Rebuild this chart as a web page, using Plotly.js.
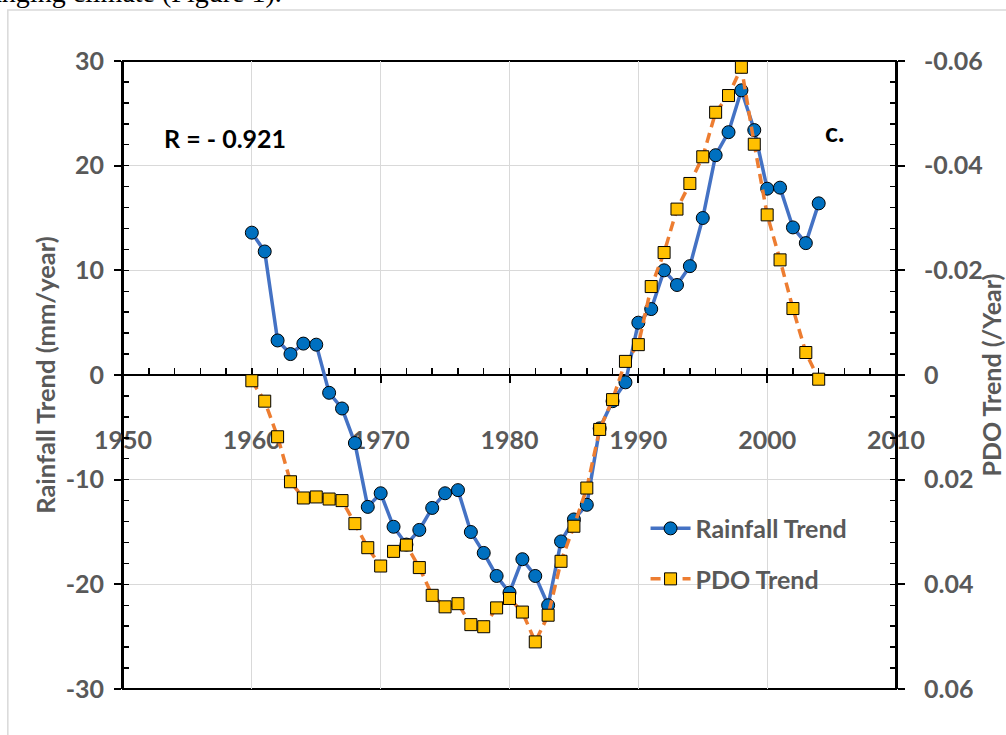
<!DOCTYPE html>
<html>
<head>
<meta charset="utf-8">
<script src="https://cdn.plot.ly/plotly-3.0.1.min.js"></script>
<style>
html,body{margin:0;padding:0;background:#fff;}
#chart{width:1006px;height:735px;}
</style>
</head>
<body>
<div id="chart"></div>
<script>
// ---- data ----
const years = [1960,1961,1962,1963,1964,1965,1966,1967,1968,1969,
               1970,1971,1972,1973,1974,1975,1976,1977,1978,1979,
               1980,1981,1982,1983,1984,1985,1986,1987,1988,1989,
               1990,1991,1992,1993,1994,1995,1996,1997,1998,1999,
               2000,2001,2002,2003,2004];
const rainfallTrend = [13.6,11.8,3.3,2.0,3.0,2.9,-1.7,-3.2,-6.5,-12.6,
                       -11.3,-14.5,-16.2,-14.8,-12.7,-11.3,-11.0,-15.0,-17.0,-19.2,
                       -20.8,-17.6,-19.2,-22.0,-15.9,-13.8,-12.4,-5.1,-2.5,-0.7,
                       5.0,6.3,10.0,8.6,10.4,15.0,21.0,23.2,27.2,23.4,
                       17.8,17.9,14.1,12.6,16.4];
const pdoTrend = [0.0011,0.0050,0.0118,0.0204,0.0235,0.0233,0.0237,0.0240,0.0284,0.0330,
                  0.0365,0.0337,0.0325,0.0368,0.0421,0.0443,0.0437,0.0477,0.0481,0.0445,
                  0.0427,0.0453,0.0510,0.0459,0.0356,0.0289,0.0216,0.0104,0.0047,-0.0026,
                  -0.0058,-0.0169,-0.0234,-0.0317,-0.0366,-0.0417,-0.0502,-0.0534,-0.0588,-0.0441,
                  -0.0306,-0.0220,-0.0127,-0.0043,0.0008];
const xTickVals = [1950,1960,1970,1980,1990,2000,2010];
const xTickText = ['1950','1960','1970','1980','1990','2000','2010'];
const yTickVals = [-30,-20,-10,0,10,20,30];
const yTickText = ['-30','-20','-10','0','10','20','30'];
const y2TickVals = [-0.06,-0.04,-0.02,0,0.02,0.04,0.06];
const y2TickText = ['-0.06','-0.04','-0.02','0','0.02','0.04','0.06'];
const seriesNames = ['Rainfall Trend','PDO Trend'];
const leftTitle = 'Rainfall Trend (mm/year)';
const rightTitle = 'PDO Trend (/Year)';
const rLabel = 'R = - 0.921';
const panelLabel = 'c.';
const topText = 'changing climate (Figure 1).';

const FONT = 'Lato, "Open Sans", sans-serif';
const GRAY = '#595959';

const traces = [
  {
    x: years, y: rainfallTrend, name: seriesNames[0], type: 'scatter', mode: 'lines+markers',
    xaxis: 'x', yaxis: 'y', legendgroup: 'a',
    line: {color: '#4472C4', width: 3.5},
    marker: {symbol: 'circle', size: 13, color: '#0070C0', line: {color: '#000', width: 1}}
  },
  {
    x: years, y: pdoTrend, name: seriesNames[1], type: 'scatter', mode: 'lines+markers',
    xaxis: 'x', yaxis: 'y2', legendgroup: 'b',
    line: {color: '#ED7D31', width: 3.5, dash: '10px,6px'},
    marker: {symbol: 'square', size: 12, color: '#FFC000', line: {color: '#000', width: 1}}
  }
];

const tickFont = {family: FONT, size: 25, color: GRAY, weight: 'bold'};

const layout = {
  width: 1006, height: 735,
  margin: {l: 123, r: 110, t: 61, b: 46, pad: 0},
  paper_bgcolor: '#fff', plot_bgcolor: '#fff',
  font: {family: FONT, color: GRAY},
  showlegend: true,
  legend: {
    x: 0.676, y: 0.292, xanchor: 'left', yanchor: 'top',
    bgcolor: 'rgba(0,0,0,0)', borderwidth: 0,
    font: {family: FONT, size: 25, color: GRAY, weight: 'bold'},
    traceorder: 'grouped', tracegroupgap: 15, itemwidth: 40
  },
  xaxis: {
    range: [1950, 2010], anchor: 'free', position: 0.5,
    tickmode: 'array', tickvals: xTickVals, ticktext: xTickText,
    ticks: 'outside', ticklen: 7, tickwidth: 2, tickcolor: '#000',
    ticklabelstandoff: 36,
    minor: {tickmode: 'linear', tick0: 1950, dtick: 2, ticks: 'inside', ticklen: 6, tickwidth: 1.5, tickcolor: '#000', showgrid: false},
    showline: true, linecolor: '#000', linewidth: 2,
    showgrid: true, gridcolor: '#D9D9D9', gridwidth: 1,
    zeroline: false, tickfont: tickFont, layer: 'below traces', fixedrange: true
  },
  xaxis2: {
    range: [1950, 2010], overlaying: 'x', anchor: 'free', position: 0.5,
    tickmode: 'array', tickvals: xTickVals, ticks: 'inside', ticklen: 7, tickwidth: 2, tickcolor: '#000',
    showticklabels: false, showline: false, showgrid: false, zeroline: false, layer: 'below traces'
  },
  yaxis: {
    range: [-30, 30], anchor: 'x', side: 'left',
    tickmode: 'array', tickvals: yTickVals, ticktext: yTickText,
    ticks: 'outside', ticklen: 7, tickwidth: 2, tickcolor: '#000',
    ticklabelstandoff: 5,
    minor: {tickmode: 'linear', tick0: 0, dtick: 2, ticks: 'inside', ticklen: 6, tickwidth: 1.5, tickcolor: '#000', showgrid: false},
    showline: true, linecolor: '#000', linewidth: 2,
    showgrid: true, gridcolor: '#D9D9D9', gridwidth: 1, zeroline: false,
    tickfont: tickFont, layer: 'below traces', fixedrange: true,
    title: {text: leftTitle, font: {family: FONT, size: 25.5, color: GRAY, weight: 'bold'}, standoff: 3}
  },
  yaxis3: {
    range: [-30, 30], overlaying: 'y', anchor: 'x', side: 'left',
    tickmode: 'array', tickvals: yTickVals, ticks: 'inside', ticklen: 7, tickwidth: 2, tickcolor: '#000',
    showticklabels: false, showline: false, showgrid: false, zeroline: false, layer: 'below traces'
  },
  yaxis2: {
    range: [0.06, -0.06], overlaying: 'y', anchor: 'x', side: 'right',
    tickmode: 'array', tickvals: y2TickVals, ticktext: y2TickText,
    ticks: 'outside', ticklen: 7, tickwidth: 2, tickcolor: '#000',
    ticklabelstandoff: 14,
    minor: {tickmode: 'linear', tick0: 0, dtick: 0.004, ticks: 'inside', ticklen: 6, tickwidth: 1.5, tickcolor: '#000', showgrid: false},
    showline: true, linecolor: '#000', linewidth: 2,
    showgrid: false, zeroline: false, tickfont: tickFont, layer: 'below traces', fixedrange: true,
    title: {text: rightTitle, font: {family: FONT, size: 25, color: GRAY, weight: 'bold'}, standoff: 17}
  },
  yaxis4: {
    range: [0.06, -0.06], overlaying: 'y', anchor: 'x', side: 'right',
    tickmode: 'array', tickvals: y2TickVals, ticks: 'inside', ticklen: 7, tickwidth: 2, tickcolor: '#000',
    showticklabels: false, showline: false, showgrid: false, zeroline: false, layer: 'below traces'
  },
  shapes: [
    {type: 'rect', xref: 'paper', yref: 'paper', x0: -0.149, x1: 1.3, y0: -0.3, y1: 1.0812,
     line: {color: '#D9D9D9', width: 1.5}, fillcolor: 'rgba(0,0,0,0)', layer: 'below'},
    {type: 'rect', xref: 'paper', yref: 'paper', x0: 0, x1: 1, y0: 0, y1: 1,
     line: {color: '#000', width: 2}, fillcolor: 'rgba(0,0,0,0)', layer: 'below'}
  ],
  annotations: [
    {text: rLabel, xref: 'paper', yref: 'paper', x: (225 - 123) / 773, y: (689 - 138) / 628,
     xanchor: 'center', yanchor: 'middle', showarrow: false,
     font: {family: FONT, size: 25, color: '#000', weight: 'bold'}},
    {text: panelLabel, xref: 'paper', yref: 'paper', x: (834 - 123) / 773, y: (689 - 131) / 628,
     xanchor: 'center', yanchor: 'middle', showarrow: false,
     font: {family: FONT, size: 27, color: '#000', weight: 'bold'}},
    {text: topText, xref: 'paper', yref: 'paper', x: (284 - 123) / 773, y: 1 + (61 - 10) / 628,
     xanchor: 'right', yanchor: 'bottom', showarrow: false,
     font: {family: '"Liberation Serif", serif', size: 28, color: '#000'}}
  ]
};

Plotly.newPlot('chart', traces, layout, {displayModeBar: false, staticPlot: true});
</script>
</body>
</html>
